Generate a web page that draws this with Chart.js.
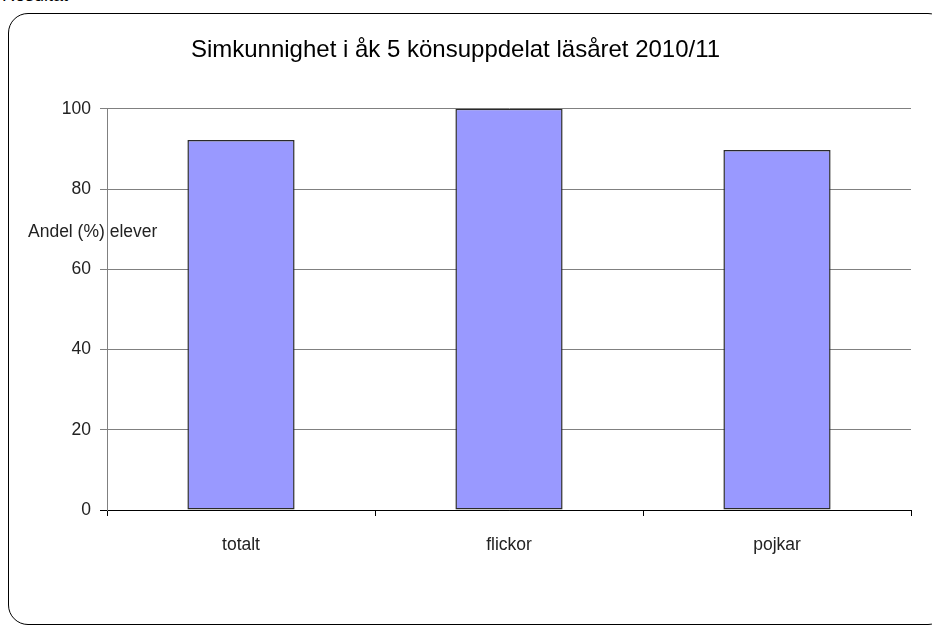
<!DOCTYPE html>
<html>
<head>
<meta charset="utf-8">
<script src="https://cdn.jsdelivr.net/npm/chart.js@4.4.0/dist/chart.umd.min.js"></script>
<style>
  body { margin: 0; background: #fff; font-family: "Liberation Sans", Arial, sans-serif; }
  #wrap { position: relative; width: 932px; height: 628px; overflow: hidden; }
  #head { position: absolute; left: 2px; top: -15px; font-size: 18px; color: #000; }
  #frame { position: absolute; left: 8px; top: 13px; width: 940px; height: 612px;
           border: 1.5px solid #000; border-radius: 20px; box-sizing: border-box; }
  #mychart { position: absolute; left: 0; top: 0; }
</style>
</head>
<body>
<div id="wrap">
  <div id="head">Resultat</div>
  <div id="frame"></div>
  <canvas id="mychart" width="932" height="628"></canvas>
</div>
<script>
const categories = ['totalt', 'flickor', 'pojkar'];
const andel = [92.2, 100, 89.7];
const yTicks = [0, 20, 40, 60, 80, 100];
const chartTitle = 'Simkunnighet i åk 5 könsuppdelat läsåret 2010/11';
const yLabel = 'Andel (%) elever';

const FONT = '"Liberation Sans", Arial, sans-serif';

// y-axis caption sits horizontally across the axis, like the original
const yCaption = {
    id: 'yCaption',
    afterDraw(chart) {
        const c = chart.ctx;
        c.save();
        c.font = '17.5px ' + FONT;
        c.fillStyle = '#222';
        c.textBaseline = 'middle';
        c.fillText(yLabel, 28, 232);
        c.restore();
    }
};

const ctx1 = document.getElementById('mychart');
const chart1 = new Chart(ctx1, {
    type: 'bar',
    data: {
        labels: categories,
        datasets: [{
            label: yLabel,
            data: andel,
            backgroundColor: '#9999ff',
            borderColor: '#2a2a2a',
            borderWidth: 1.5,
            borderSkipped: false,
            barPercentage: 0.4,
            categoryPercentage: 1
        }]
    },
    options: {
        responsive: false,
        animation: false,
        layout: {
            padding: { top: 0, left: 0, right: 21, bottom: 0 }
        },
        plugins: {
            legend: { display: false },
            tooltip: { enabled: false },
            title: {
                display: true,
                text: chartTitle,
                color: '#000',
                font: { family: FONT, size: 24, weight: 'normal', lineHeight: 1.2 },
                padding: { top: 36, bottom: 44 }
            }
        },
        scales: {
            x: {
                afterFit: s => { s.height = 118; },
                border: { color: '#000', width: 1 },
                grid: {
                    offset: true,
                    drawOnChartArea: false,
                    drawTicks: true,
                    tickLength: 6,
                    color: '#000'
                },
                ticks: {
                    color: '#222',
                    padding: 19,
                    font: { family: FONT, size: 17.5 }
                }
            },
            y: {
                min: 0,
                max: 100,
                afterFit: s => { s.width = 107; },
                afterBuildTicks: s => { s.ticks = yTicks.map(v => ({ value: v })); },
                border: { color: '#808080', width: 1 },
                grid: {
                    color: c => (c.tick && c.tick.value === 0 ? '#000' : '#808080'),
                    tickLength: 7,
                    lineWidth: 1
                },
                ticks: {
                    color: '#222',
                    padding: 9,
                    font: { family: FONT, size: 17.5 }
                }
            }
        }
    },
    plugins: [yCaption]
});
</script>
</body>
</html>
